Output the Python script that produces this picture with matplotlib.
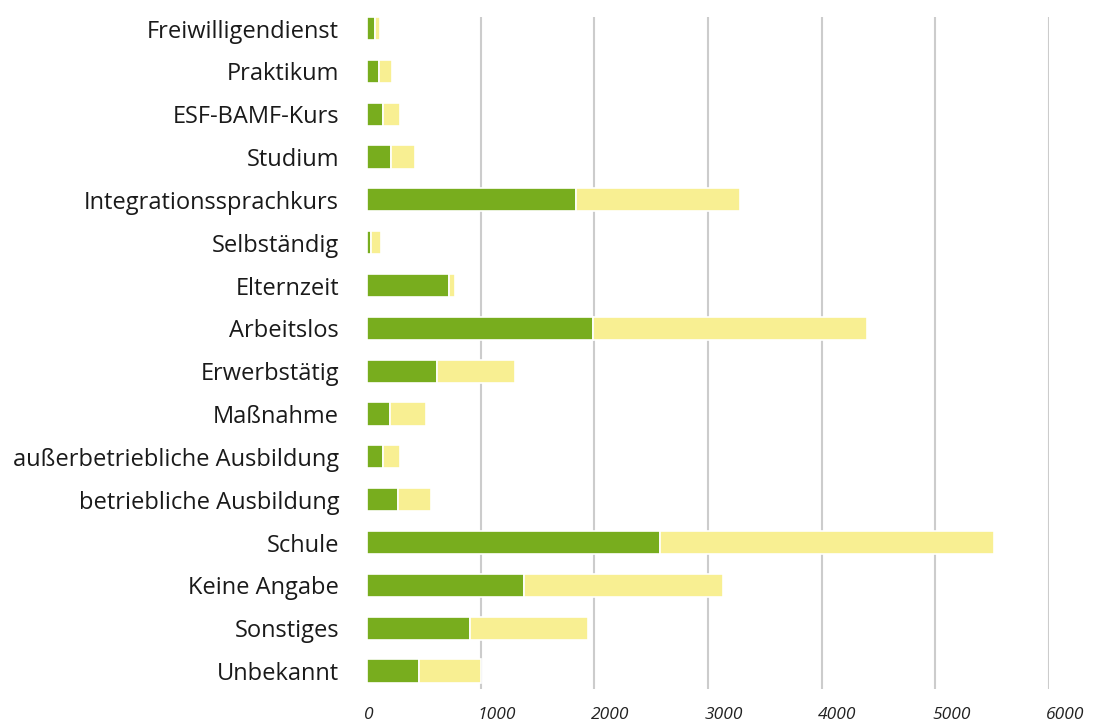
import numpy as np
import matplotlib.pyplot as plt

# Kategorien von oben nach unten
kategorien = ['Freiwilligendienst', 'Praktikum', 'ESF-BAMF-Kurs', 'Studium',
              'Integrationssprachkurs', 'Selbständig', 'Elternzeit', 'Arbeitslos',
              'Erwerbstätig', 'Maßnahme', 'außerbetriebliche Ausbildung',
              'betriebliche Ausbildung', 'Schule', 'Keine Angabe', 'Sonstiges',
              'Unbekannt']
gruen = [70, 105, 140, 210, 1840, 35, 722, 1984, 617, 201, 142, 273, 2575, 1383, 907, 458]
gelb = [45, 115, 150, 210, 1445, 88, 53, 2419, 681, 319, 149, 291, 2945, 1745, 1040, 546]
xticks = [0, 1000, 2000, 3000, 4000, 5000, 6000]

farbe_gruen = '#78AD1E'
farbe_gelb = '#F8EF92'

plt.rcParams['font.family'] = ['Open Sans', 'DejaVu Sans']

W, H = 1093, 725
fig = plt.figure(figsize=(W / 100, H / 100), dpi=100)
x0, x1 = 367, 1049
y_top, y_bot = 17, 689
ax = fig.add_axes([x0 / W, 1 - y_bot / H, (x1 - x0) / W, (y_bot - y_top) / H])

y = np.arange(len(kategorien))
ax.barh(y, gruen, height=0.54, color=farbe_gruen, edgecolor='white', linewidth=1.2, zorder=3)
ax.barh(y, gelb, left=gruen, height=0.54, color=farbe_gelb, edgecolor='white', linewidth=1.2, zorder=3)

ax.set_xlim(0, 6000)
ax.set_ylim(len(kategorien) - 1 + 0.42, -0.27)

# Gitterlinien, die bei 0 wird nicht gezeigt
ax.set_xticks(xticks)
ax.set_xticklabels([])
ax.tick_params(axis='x', length=0)
ax.grid(axis='x', color='#cccccc', linewidth=1.5, zorder=0)
ax.get_xgridlines()[0].set_visible(False)

for t in xticks:
    ax.text(t - 30, -0.039, str(t), transform=ax.get_xaxis_transform(),
            ha='left', va='center', fontsize=12.5, style='italic', color='#222222')

ax.set_yticks(y)
ax.set_yticklabels(kategorien, fontsize=17, color='#1a1a1a')
ax.tick_params(axis='y', length=0, pad=20)

for s in ax.spines.values():
    s.set_visible(False)

fig.savefig('out.png', dpi=100)
